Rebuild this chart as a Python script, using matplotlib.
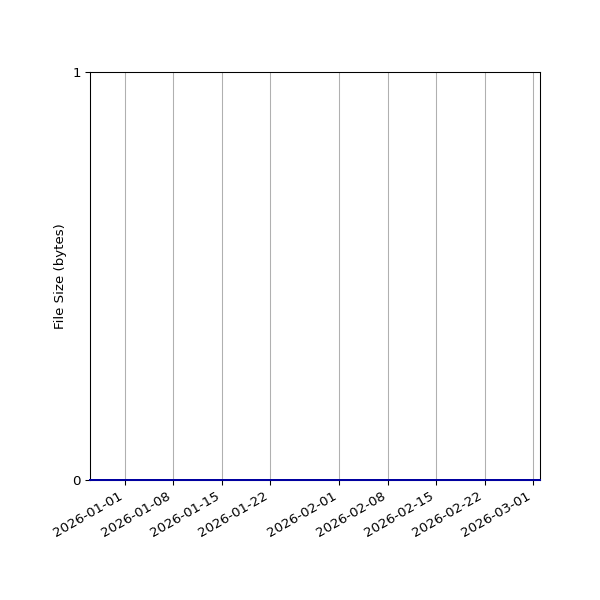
import matplotlib
matplotlib.use("Agg")
import matplotlib.pyplot as plt
import matplotlib.dates as mdates
import pandas as pd

# file size history (all zero over the window)
dates = ["2025-12-27", "2026-01-01", "2026-01-08", "2026-01-15", "2026-01-22",
         "2026-02-01", "2026-02-08", "2026-02-15", "2026-02-22", "2026-03-01",
         "2026-03-02"]
sizes = [0, 0, 0, 0, 0, 0, 0, 0, 0, 0, 0]
tick_dates = ["2026-01-01", "2026-01-08", "2026-01-15", "2026-01-22", "2026-02-01",
              "2026-02-08", "2026-02-15", "2026-02-22", "2026-03-01"]

x = pd.to_datetime(dates)

fig, ax = plt.subplots(figsize=(6.25, 6.25), dpi=96)
ax.plot(x, sizes, color="#0000a0", linewidth=1.5, zorder=3, clip_on=False)

ax.set_xlim(x[0], x[-1])
ax.set_ylim(0, 1)
ax.set_yticks([0, 1])
ax.set_xticks(pd.to_datetime(tick_dates))
ax.xaxis.set_major_formatter(mdates.DateFormatter("%Y-%m-%d"))
ax.grid(axis="x", color="#b0b0b0", linewidth=0.8)
ax.set_ylabel("File Size (bytes)")

fig.autofmt_xdate()
fig.subplots_adjust(left=0.15, right=0.9, top=0.88, bottom=0.2)
fig.savefig("out.png")
